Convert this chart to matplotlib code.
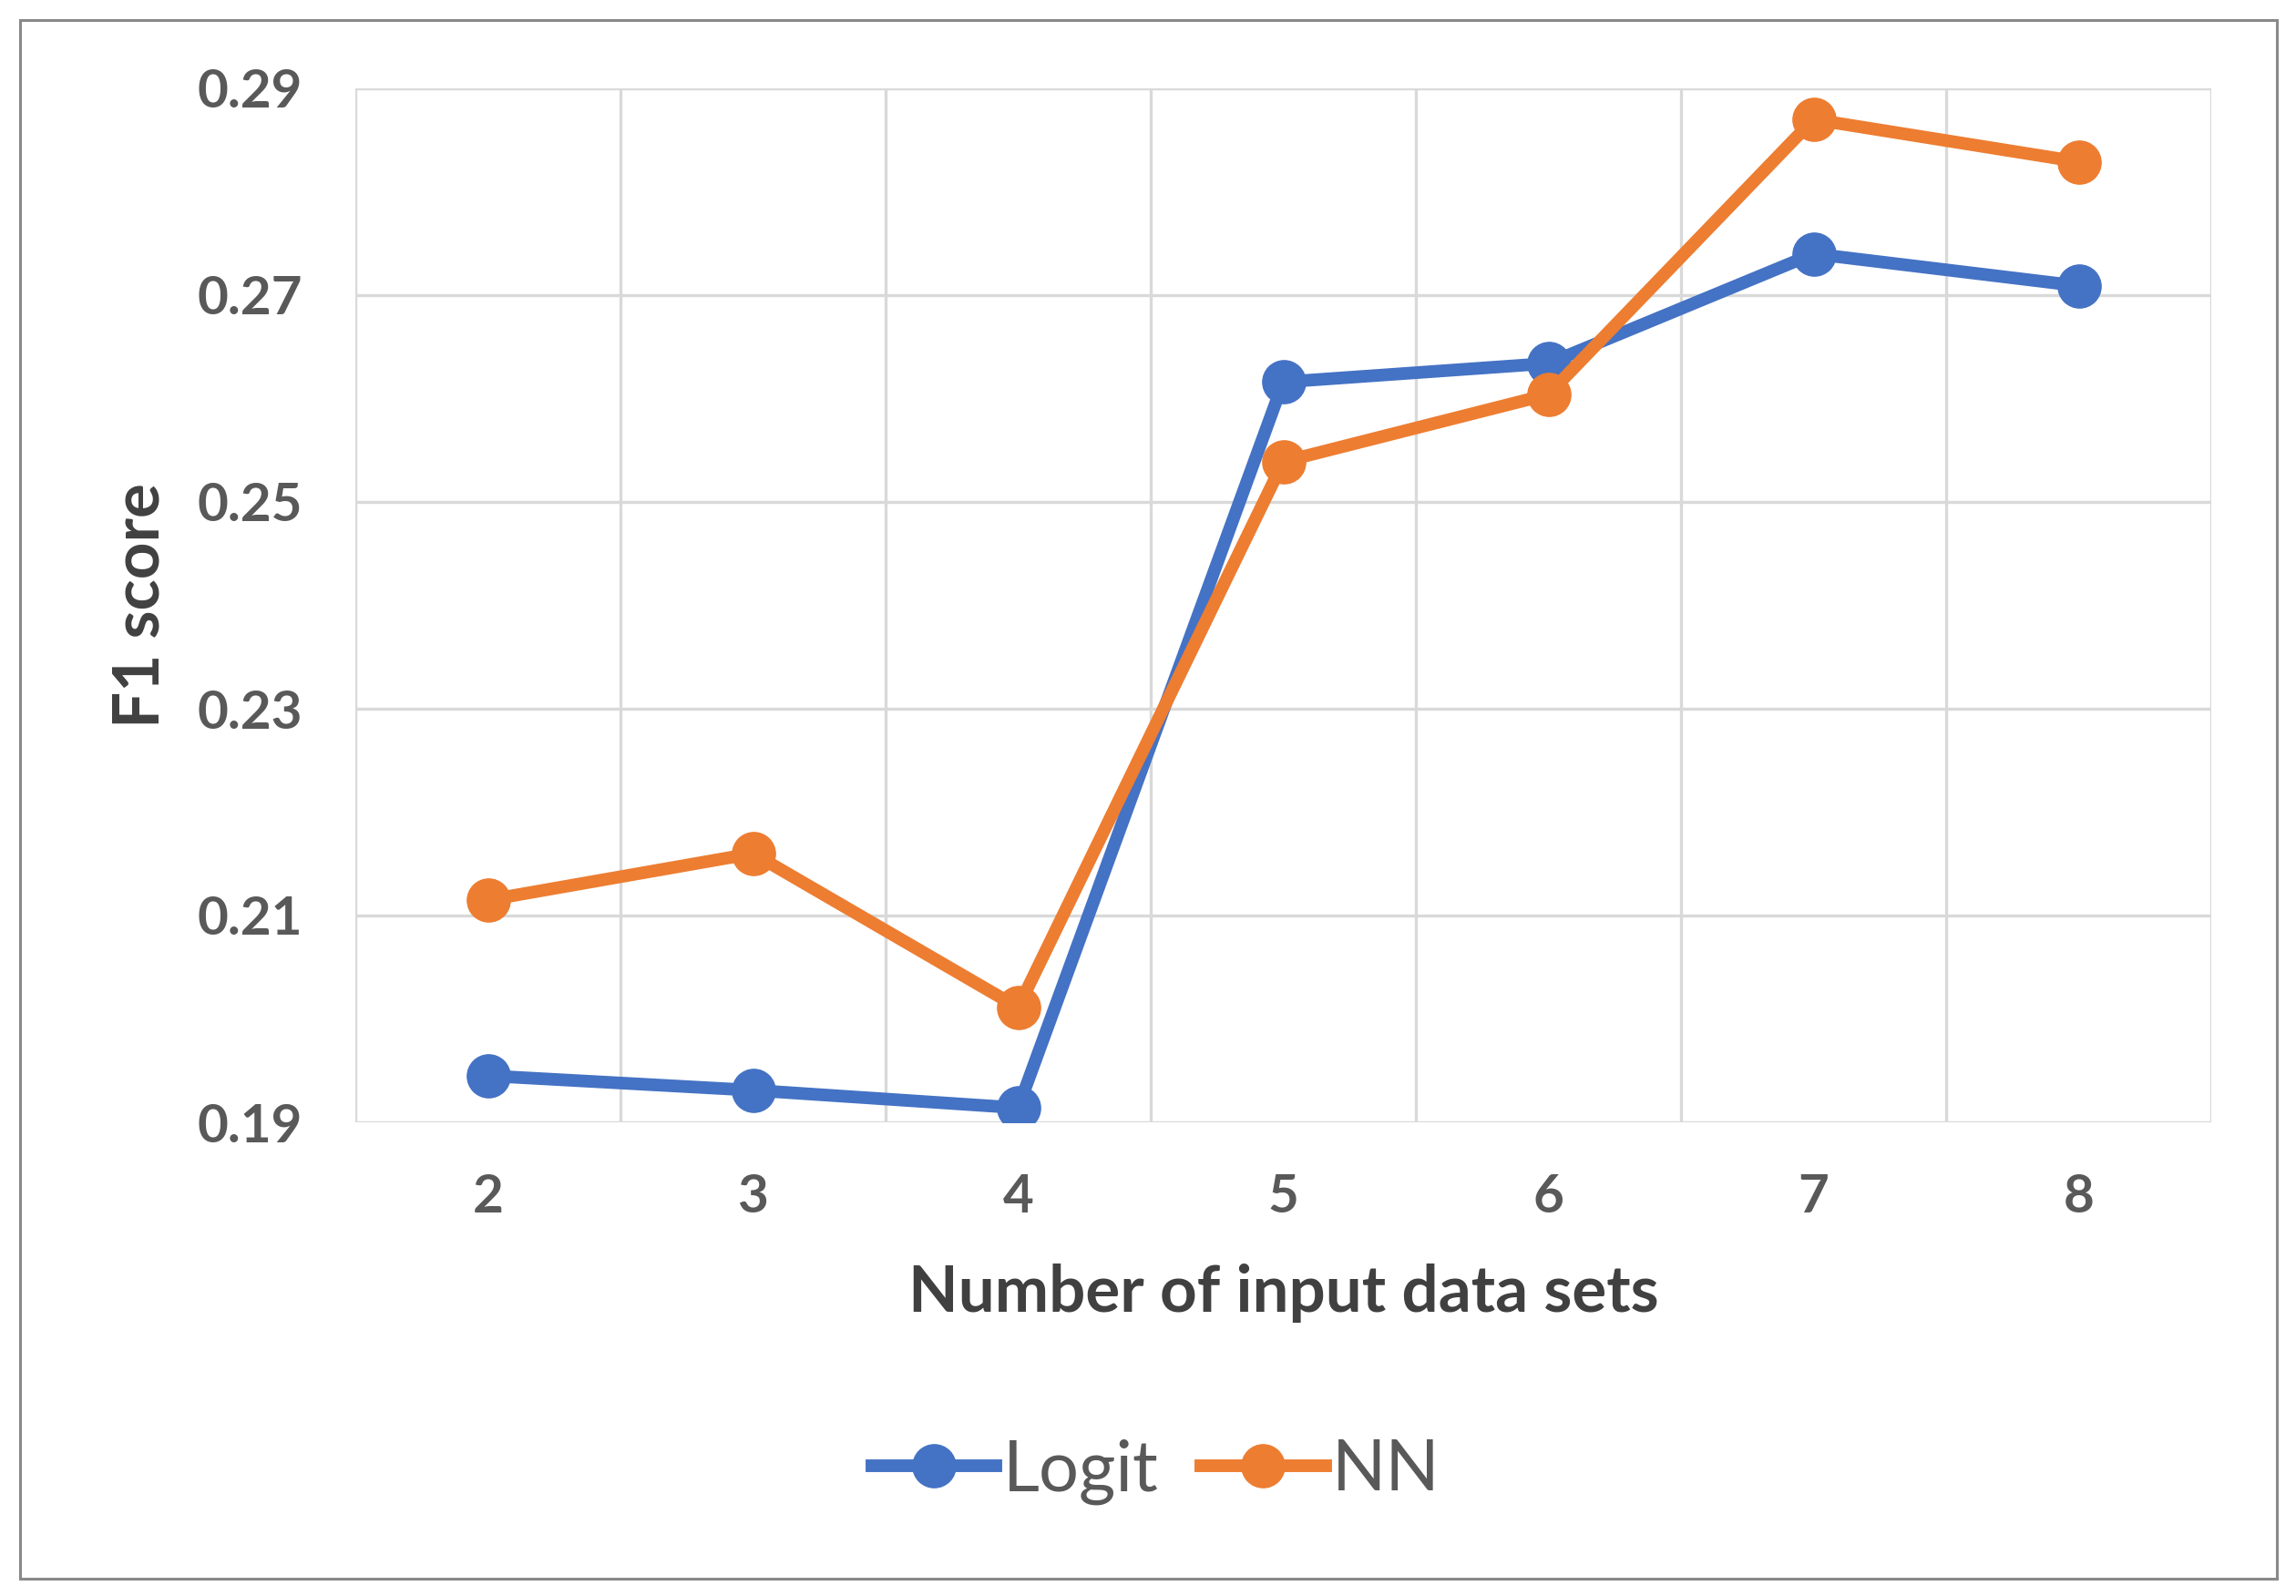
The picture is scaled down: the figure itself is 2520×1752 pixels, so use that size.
import numpy as np, matplotlib
matplotlib.use('Agg'); import matplotlib.pyplot as plt
from matplotlib.patches import Rectangle
from matplotlib.ticker import FixedLocator, FormatStrFormatter

plt.rcParams.update({'font.family': ['Lato', 'DejaVu Sans']})

n_sets = [2, 3, 4, 5, 6, 7, 8]
logit = [0.1945, 0.1931, 0.1914, 0.2616, 0.2634, 0.2740, 0.2709]
nn = [0.2115, 0.2160, 0.2011, 0.2539, 0.2604, 0.2870, 0.2829]
yticks = [0.19, 0.21, 0.23, 0.25, 0.27, 0.29]

BLUE, ORANGE = '#4472C4', '#ED7D31'
GRID, TXT, TTL = '#d9d9d9', '#595959', '#404040'

fig = plt.figure(figsize=(25.2, 17.52), dpi=100)
ax = fig.add_axes([390/2520, 1-1232/1752, 2037/2520, 1135/1752])

ax.plot(n_sets, logit, 'o-', color=BLUE, lw=10, ms=34, label='Logit', zorder=3)
ax.plot(n_sets, nn, 'o-', color=ORANGE, lw=10, ms=34, label='NN', zorder=4)

ax.set_xlim(1.5, 8.5); ax.set_ylim(0.19, 0.29)
ax.set_xticks(n_sets)
ax.xaxis.set_minor_locator(FixedLocator(np.arange(1.5, 9, 1)))
ax.set_yticks(yticks)
ax.yaxis.set_major_formatter(FormatStrFormatter('%.2f'))
ax.grid(True, which='minor', axis='x', color=GRID, lw=2.4)
ax.grid(True, which='major', axis='y', color=GRID, lw=2.4)
ax.grid(False, which='major', axis='x')
for s in ax.spines.values(): s.set_visible(False)
ax.tick_params(which='both', length=0)
ax.tick_params(axis='x', pad=40)
ax.tick_params(axis='y', pad=42)
for lab in ax.get_xticklabels() + ax.get_yticklabels():
    lab.set_fontsize(42); lab.set_fontweight('bold'); lab.set_color(TXT)

ax.set_xlabel('Number of input data sets', fontsize=51, fontweight='bold', color=TTL)
ax.xaxis.set_label_coords(0.5, -0.165); ax.xaxis.label.set_va('center')
ax.set_ylabel('F1 score', fontsize=51, fontweight='bold', color=TTL)
ax.yaxis.set_label_coords(-0.116, 0.5); ax.yaxis.label.set_va('center')

leg = fig.legend(loc='center', bbox_to_anchor=(0.5036, 0.078), ncol=2, frameon=False,
                 fontsize=56, handlelength=1.75, handletextpad=0.1, columnspacing=0.6,
                 markerscale=1.0)
for t in leg.get_texts(): t.set_color(TXT)

fig.patches.append(Rectangle((22/2520, 1-1733/1752), 2477/2520, 1711/1752,
                             transform=fig.transFigure, fill=False, ec='#898989', lw=2.2))

fig.savefig('out.png', dpi=100, facecolor='white')
